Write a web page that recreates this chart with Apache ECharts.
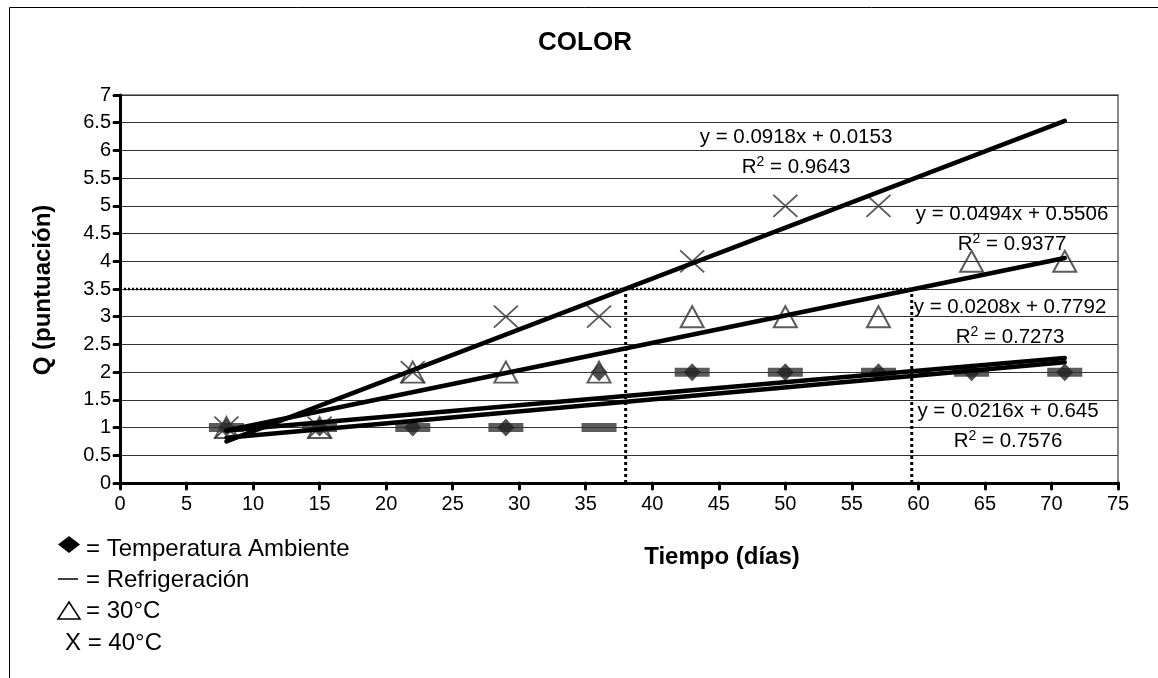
<!DOCTYPE html>
<html><head><meta charset="utf-8">
<script src="https://cdn.jsdelivr.net/npm/echarts@6/dist/echarts.min.js"></script>
<style>html,body{margin:0;padding:0;background:#fff}#c{width:1158px;height:678px}</style>
</head><body><div id="c"></div>
<script>
// ---- data ----
const days = [8, 15, 22, 29, 36, 43, 50, 57, 64, 71];
const tempAmbiente = [1, 1, 1, 1, 2, 2, 2, 2, 2, 2];
const refrigeracion = [1, 1, 1, 1, 1, 2, 2, 2, 2, 2];
const temp30 = [1, 1, 2, 2, 2, 3, 3, 3, 4, 4];
const temp40 = [1, 1, 2, 3, 3, 4, 5, 5];
// trend lines (40°C, 30°C, Temp. ambiente, Refrigeración)
const trendSlopes = [0.0918, 0.0494, 0.0208, 0.0216];
const trendIntercepts = [0.0153, 0.5506, 0.7792, 0.645];
const trendR2 = ['0.9643', '0.9377', '0.7273', '0.7576'];
const trendRange = [8, 71];
const thresholdQ = 3.5;
const thresholdDays = [38, 59.5];
const xTicks = {min: 0, max: 75, step: 5};
const yTicks = {min: 0, max: 7, step: 0.5};
const legendLabels = ['= Temperatura Ambiente', '= Refrigeración', '= 30°C', 'X = 40°C'];
const titleText = 'COLOR';
const xName = 'Tiempo (días)';
const yName = 'Q (puntuación)';

const FONT = 'Arial, "Liberation Sans", sans-serif';
const chart = echarts.init(document.getElementById('c'), null, {renderer: 'canvas'});

const pts = (ys) => ys.map((y, i) => [days[i], y]);
const trendSeries = trendSlopes.map((m, i) => ({
  type: 'line', z: 5, silent: true, symbol: 'none',
  data: trendRange.map(x => [x, trendIntercepts[i] + m * x]),
  lineStyle: {color: '#000', width: 4.5, cap: 'round'}
}));

const dotted = {color: '#000', width: 3, type: [3, 3]};
const thresholdSeries = [
  {type: 'line', symbol: 'none', z: 4, silent: true, lineStyle: {color: '#000', width: 2.5, type: [2, 2]},
   data: [[xTicks.min, thresholdQ], [thresholdDays[1], thresholdQ]]},
  ...thresholdDays.map(d => ({type: 'line', symbol: 'none', z: 4, silent: true, lineStyle: dotted,
   data: [[d, 0], [d, thresholdQ]]}))
];

// equation label pixel anchors
const eqPos = [[796, 137, 167], [1012, 214, 244], [1010, 307, 337], [1008, 411, 441]];
const eqGraphics = [];
trendSlopes.forEach((m, i) => {
  const p = eqPos[i];
  eqGraphics.push({type: 'text', x: p[0], y: p[1], z: 10,
    style: {text: 'y = ' + m + 'x + ' + trendIntercepts[i], font: '20.5px ' + FONT, fill: '#000', align: 'center', verticalAlign: 'middle'}});
  eqGraphics.push({type: 'text', x: p[0], y: p[2], z: 10,
    style: {text: 'R{s|2} = ' + trendR2[i], font: '20.5px ' + FONT, fill: '#000', align: 'center', verticalAlign: 'middle',
      rich: {s: {fontSize: 14, fontFamily: FONT, verticalAlign: 'top', padding: [0, 0, 10, 0]}}}});
});

const legendGraphics = [
  {type: 'polygon', shape: {points: [[69, 536], [80, 544.5], [69, 553], [58, 544.5]]}, style: {fill: '#000'}},
  {type: 'text', x: 86, y: 549, style: {text: legendLabels[0], font: '24px ' + FONT, fill: '#000', verticalAlign: 'middle'}},
  {type: 'line', shape: {x1: 58, y1: 579, x2: 78, y2: 579}, style: {stroke: '#000', lineWidth: 1.5}},
  {type: 'text', x: 86, y: 580, style: {text: legendLabels[1], font: '24px ' + FONT, fill: '#000', verticalAlign: 'middle'}},
  {type: 'polygon', shape: {points: [[69, 602], [80, 619], [58, 619]]}, style: {fill: 'none', stroke: '#000', lineWidth: 1.5}},
  {type: 'text', x: 86, y: 611, style: {text: legendLabels[2], font: '24px ' + FONT, fill: '#000', verticalAlign: 'middle'}},
  {type: 'text', x: 65, y: 643, style: {text: legendLabels[3], font: '24px ' + FONT, fill: '#000', verticalAlign: 'middle'}}
];

chart.setOption({
  animation: false,
  backgroundColor: '#fff',
  grid: {left: 120, right: 40, top: 95, bottom: 195, show: true, borderColor: '#8a8a8a', borderWidth: 2, backgroundColor: 'transparent'},
  xAxis: {
    type: 'value', min: xTicks.min, max: xTicks.max, interval: xTicks.step,
    axisLine: {onZero: false, lineStyle: {color: '#000', width: 3}},
    axisTick: {show: true, length: 6, lineStyle: {color: '#000', width: 3, cap: 'round'}},
    axisLabel: {color: '#000', fontSize: 20, fontFamily: FONT, margin: 11},
    splitLine: {show: false}
  },
  yAxis: {
    type: 'value', min: yTicks.min, max: yTicks.max, interval: yTicks.step,
    axisLine: {show: true, onZero: false, lineStyle: {color: '#000', width: 3}},
    axisTick: {show: true, length: 6, lineStyle: {color: '#000', width: 3, cap: 'round'}},
    axisLabel: {color: '#000', fontSize: 20, fontFamily: FONT, margin: 9},
    splitLine: {show: true, lineStyle: {color: '#333', width: 1}}
  },
  series: [
    {name: 'Refrigeración', type: 'scatter', z: 2, data: pts(refrigeracion), symbol: 'rect', symbolSize: [35, 9],
     itemStyle: {color: '#333'}},
    {name: 'Temperatura Ambiente', type: 'scatter', z: 3, data: pts(tempAmbiente), symbol: 'diamond', symbolSize: [17, 18],
     itemStyle: {color: '#222'}},
    {name: '30°C', type: 'scatter', z: 3, data: pts(temp30), symbol: 'triangle', symbolSize: [23, 21],
     itemStyle: {color: 'rgba(0,0,0,0)', borderColor: '#333', borderWidth: 2}},
    {name: '40°C', type: 'scatter', z: 3, data: temp40.map((y, i) => [days[i], y]), symbol: 'path://M0,0L20,20M20,0L0,20', symbolSize: [24, 22],
     itemStyle: {color: 'rgba(0,0,0,0)', borderColor: '#333', borderWidth: 1.8}},
    ...trendSeries,
    ...thresholdSeries
  ],
  graphic: [
    {type: 'rect', shape: {x: 9.5, y: 7.5, width: 1160, height: 700}, style: {fill: 'none', stroke: '#000', lineWidth: 1}, z: 0, silent: true},
    {type: 'text', x: 585, y: 43, style: {text: titleText, font: 'bold 26px ' + FONT, fill: '#000', align: 'center', verticalAlign: 'middle'}},
    {type: 'text', x: 722, y: 557, style: {text: xName, font: 'bold 24px ' + FONT, fill: '#000', align: 'center', verticalAlign: 'middle'}},
    {type: 'text', x: 43, y: 290, rotation: Math.PI / 2, style: {text: yName, font: 'bold 24px ' + FONT, fill: '#000', align: 'center', verticalAlign: 'middle'}},
    ...eqGraphics,
    ...legendGraphics
  ]
});
</script></body></html>
